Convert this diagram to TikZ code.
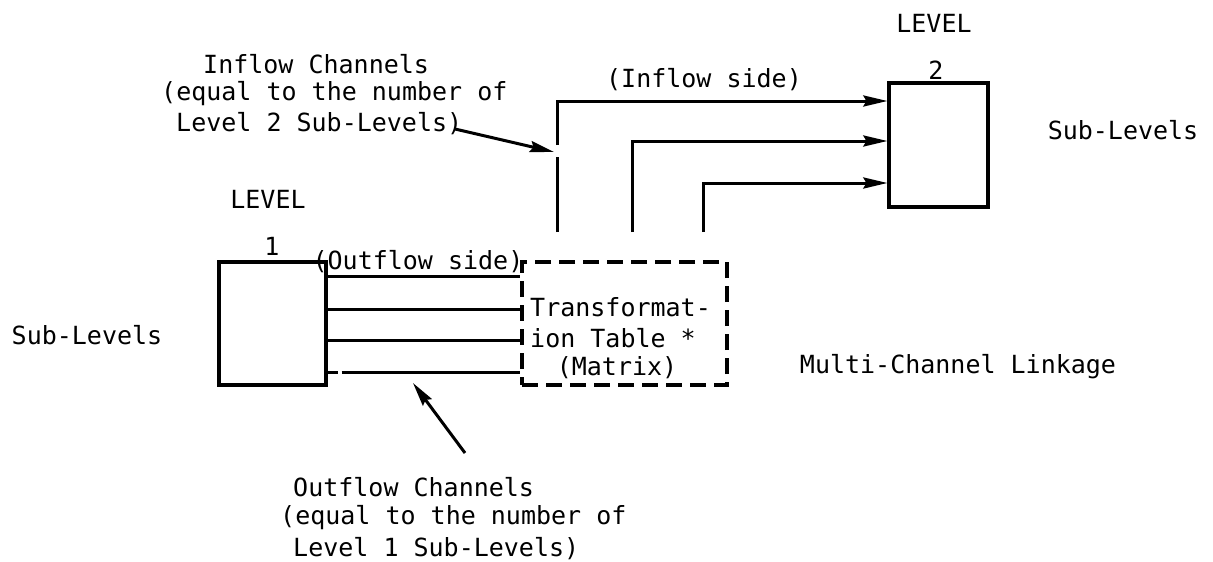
\documentclass[tikz,border=0pt]{standalone}
\usepackage{fontspec}
\setmonofont{DejaVu Sans Mono}
\usetikzlibrary{arrows.meta,calc}
\begin{document}
\begin{tikzpicture}[x=1pt,y=-1pt,
  lbl/.style={font=\ttfamily\fontsize{25}{30}\selectfont, inner sep=0pt},
  box/.style={draw, line width=3.2pt, inner sep=0pt},
  dbox/.style={box, dash pattern=on 16pt off 8pt},
  chan/.style={line width=3pt},
  arr/.style={line width=3pt, -{Stealth[length=24pt,width=11pt,inset=3pt]}},
]
\useasboundingbox (0,0) rectangle (1213,562);

% the two levels and the transformation table between them
\node[box, minimum width=107pt, minimum height=123pt] (l1) at (272.5,323.5) {};
\node[dbox, minimum width=205pt, minimum height=123pt] (tt) at (624.5,323.5) {};
\node[box, minimum width=99pt, minimum height=124pt] (l2) at (938.5,145) {};

% level labels
\node[lbl] (lv1) at (268,199) {LEVEL};
\node[lbl] (n1) at (272,246) {1};
\node[lbl] (lv2) at (934,23) {LEVEL};
\node[lbl] (n2) at (936,70) {2};
\node[lbl] (sl1) at (87,335) {Sub-Levels};
\node[lbl] (sl2) at (1123,130) {Sub-Levels};
\node[lbl] (mcl) at (958,367) {Multi-Channel Linkage};

% table text
\node[lbl, anchor=west] (tt1) at (530,307) {Transformat-};
\node[lbl, anchor=west] (tt2) at (530,338) {ion Table *};
\node[lbl] (tt3) at (617,368) {(Matrix)};

% side labels
\node[lbl] (outs) at (418,262) {(Outflow side)};
\node[lbl] (ins) at (704,80) {(Inflow side)};

% outflow channels
\foreach \y [count=\i] in {276,309,340,372} {\coordinate (o\i) at (0,\y);}
\draw[chan] (l1.east |- o1) -- (tt.west |- o1);
\draw[chan] (l1.east |- o2) -- (tt.west |- o2);
\draw[chan] (l1.east |- o3) -- (tt.west |- o3);
\draw[chan, dash pattern=on 10pt off 4pt on 300pt] (l1.east |- o4) -- (tt.west |- o4);

% inflow channels
\coordinate (h1) at (0,101);
\coordinate (h2) at (0,141);
\coordinate (h3) at (0,183);
\coordinate (a1) at (557,232);
\coordinate (a1g) at (557,157);
\coordinate (a1h) at (557,145);
\coordinate (a2) at (632,232);
\coordinate (a3) at (703,232);
\draw[chan] (a1) -- (a1g);
\draw[arr] (a1h) |- (l2.west |- h1);
\draw[arr] (a2) |- (l2.west |- h2);
\draw[arr] (a3) |- (l2.west |- h3);

% inflow annotation
\node[lbl, anchor=west] (ic1) at (203,64) {Inflow Channels};
\node[lbl, anchor=west] (ic2) at (161,94) {(equal to the number of};
\node[lbl, anchor=west] (ic3) at (176,124) {Level 2 Sub-Levels)};
\coordinate (p1s) at (455,129);
\coordinate (p1e) at (554,152);
\draw[arr] (p1s) -- (p1e);

% outflow annotation
\node[lbl, anchor=west] (oc1) at (293,487) {Outflow Channels};
\node[lbl, anchor=west] (oc2) at (280,518) {(equal to the number of};
\node[lbl, anchor=west] (oc3) at (293,549) {Level 1 Sub-Levels)};
\coordinate (p2s) at (465,453);
\coordinate (p2e) at (413,383);
\draw[arr] (p2s) -- (p2e);
\end{tikzpicture}
\end{document}
